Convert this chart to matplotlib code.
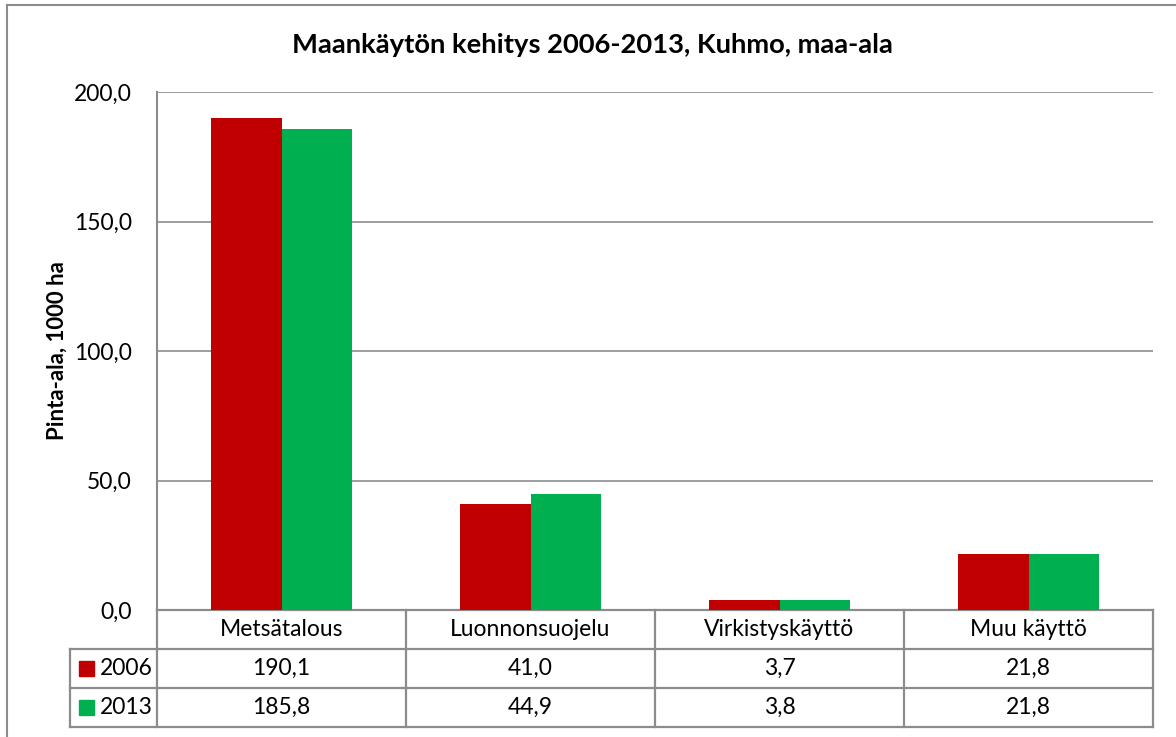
import matplotlib
matplotlib.use("Agg")
import matplotlib.pyplot as plt
from matplotlib.lines import Line2D
from matplotlib.patches import Rectangle
import numpy as np

categories = ["Metsätalous", "Luonnonsuojelu", "Virkistyskäyttö", "Muu käyttö"]
series_names = ["2006", "2013"]
values_2006 = [190.1, 41.0, 3.7, 21.8]
values_2013 = [185.8, 44.9, 3.8, 21.8]
yticks = [0, 50, 100, 150, 200]
title = "Maankäytön kehitys 2006-2013, Kuhmo, maa-ala"
ylabel = "Pinta-ala, 1000 ha"

colors = ["#C00000", "#00B050"]
grid_col = "#8C8C8C"
font = "Lato"

W, H = 1176, 737
fig = plt.figure(figsize=(W / 100, H / 100), dpi=100)
ax = fig.add_axes([157 / W, 1 - 610 / H, (1153 - 157) / W, (610 - 92) / H])

x = np.arange(len(categories))
bw = 0.285
ax.bar(x - bw / 2, values_2006, bw, color=colors[0], zorder=3)
ax.bar(x + bw / 2, values_2013, bw, color=colors[1], zorder=3)

ax.set_xlim(-0.5, len(categories) - 0.5)
ax.set_ylim(0, 200)
ax.set_yticks(yticks)
ax.set_yticklabels([f"{v:.1f}".replace(".", ",") for v in yticks], fontsize=16.5, family=font)
ax.tick_params(axis="y", length=0, pad=18)
ax.set_xticks([])
ax.yaxis.grid(True, color=grid_col, linewidth=1.2, zorder=0)
for s in ["top", "right", "bottom"]:
    ax.spines[s].set_visible(False)
ax.spines["left"].set_color(grid_col)
ax.spines["left"].set_linewidth(1.5)

fig.text(592 / W, 1 - 45 / H, title, ha="center", va="center", fontsize=19.7,
         fontweight="bold", family=font)
fig.text(57 / W, 1 - 351 / H, ylabel, ha="center", va="center", rotation=90,
         fontsize=16, fontweight="bold", family=font)

# Data table below the plot
ax_h = 610 - 92
row_h = 39 / ax_h
bt = ax.get_xaxis_transform()  # data x, axes y
tA = ax.transAxes
lw = 1.6
legx0 = (70 - 157) / (1153 - 157)

ys = [0, -row_h, -2 * row_h, -3 * row_h]
ax.add_line(Line2D([0, 1], [0, 0], transform=tA, color=grid_col, lw=lw, clip_on=False))
for yy in ys[1:]:
    ax.add_line(Line2D([legx0, 1], [yy, yy], transform=tA, color=grid_col, lw=lw, clip_on=False))
for xb in np.arange(len(categories) + 1) - 0.5:
    ax.add_line(Line2D([xb, xb], [0, -3 * row_h], transform=bt, color=grid_col, lw=lw, clip_on=False))
ax.add_line(Line2D([legx0, legx0], [-row_h, -3 * row_h], transform=tA, color=grid_col, lw=lw, clip_on=False))

fs_tab = 16.5
for i, c in enumerate(categories):
    ax.text(i, -0.5 * row_h, c, transform=bt, ha="center", va="center", fontsize=fs_tab, family=font)
    ax.text(i, -1.5 * row_h, f"{values_2006[i]:.1f}".replace(".", ","), transform=bt,
            ha="center", va="center", fontsize=fs_tab, family=font)
    ax.text(i, -2.5 * row_h, f"{values_2013[i]:.1f}".replace(".", ","), transform=bt,
            ha="center", va="center", fontsize=fs_tab, family=font)

for r, (nm, col) in enumerate(zip(series_names, colors)):
    yc = -(1.5 + r) * row_h
    sq_w = 15 / (1153 - 157)
    sq_h = 15 / ax_h
    ax.add_patch(Rectangle((legx0 + 9 / 996, yc - sq_h / 2), sq_w, sq_h, transform=tA,
                           color=col, clip_on=False))
    ax.text(legx0 + 30 / 996, yc, nm, transform=tA, ha="left", va="center",
            fontsize=fs_tab, family=font)

fig.add_artist(Line2D([7 / W, 7 / W], [0, 1 - 5 / H], color=grid_col, lw=1.5))
fig.add_artist(Line2D([7 / W, 1], [1 - 5 / H, 1 - 5 / H], color=grid_col, lw=1.5))

fig.savefig("out.png", dpi=100)
